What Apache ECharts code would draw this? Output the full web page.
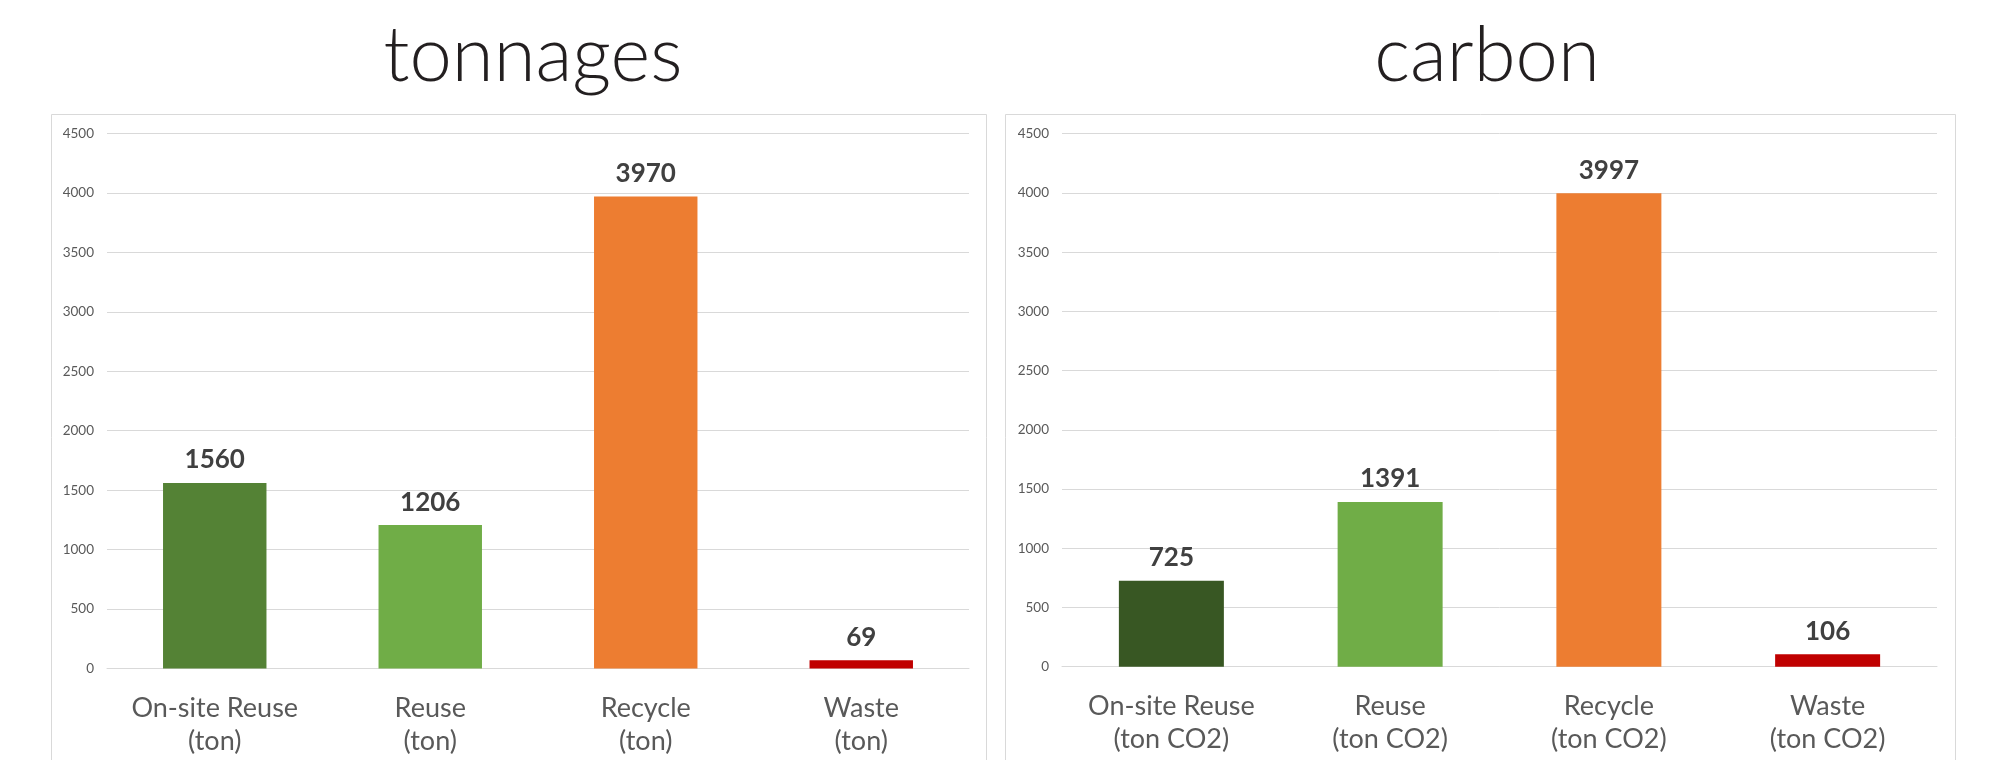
<!DOCTYPE html>
<html>
<head>
<meta charset="utf-8">
<script src="https://cdn.jsdelivr.net/npm/echarts@6/dist/echarts.min.js"></script>
<style>
  html, body { margin: 0; padding: 0; background: #ffffff; }
  #chart { width: 1998px; height: 760px; }
</style>
</head>
<body>
<div id="chart"></div>
<script>
// Material flows: tonnages and associated carbon per route
const tonnageCategories = ['On-site Reuse\n(ton)', 'Reuse\n(ton)', 'Recycle\n(ton)', 'Waste\n(ton)'];
const tonnageValues = [1560, 1206, 3970, 69];
const tonnageColors = ['#548235', '#70AD47', '#ED7D31', '#C00000'];

const carbonCategories = ['On-site Reuse\n(ton CO2)', 'Reuse\n(ton CO2)', 'Recycle\n(ton CO2)', 'Waste\n(ton CO2)'];
const carbonValues = [725, 1391, 3997, 106];
const carbonColors = ['#385723', '#70AD47', '#ED7D31', '#C00000'];

const panelTitles = ['tonnages', 'carbon'];
const yMin = 0, yMax = 4500, yStep = 500;

const FONT = 'Lato, "Open Sans", sans-serif';
const gridColor = '#d9d9d9';

function xAxisFor(idx, cats) {
  return {
    type: 'category', gridIndex: idx, data: cats,
    axisLine: { show: true, lineStyle: { color: gridColor, width: 1 } },
    axisTick: { show: false },
    axisLabel: {
      color: '#595959', fontFamily: FONT, fontSize: 27, lineHeight: 33,
      margin: 23, interval: 0
    }
  };
}
function yAxisFor(idx) {
  return {
    type: 'value', gridIndex: idx, min: yMin, max: yMax, interval: yStep,
    axisLine: { show: false }, axisTick: { show: false },
    splitLine: { lineStyle: { color: gridColor, width: 1 } },
    axisLabel: {
      color: '#595959', fontFamily: FONT, fontSize: 13.5, margin: 13,
      formatter: (v) => String(v)
    }
  };
}
function barSeries(idx, values, colors) {
  return {
    type: 'bar', xAxisIndex: idx, yAxisIndex: idx, barWidth: '48%',
    data: values.map((v, i) => ({ value: v, itemStyle: { color: colors[i] } })),
    label: {
      show: true, position: 'top', distance: 10,
      color: '#404040', fontFamily: FONT, fontWeight: 'bold', fontSize: 26
    },
    animation: false
  };
}

const chart = echarts.init(document.getElementById('chart'), null, { renderer: 'canvas' });
chart.setOption({
  backgroundColor: '#ffffff',
  animation: false,
  title: [
    { text: panelTitles[0], left: 528, top: 13, textAlign: 'center',
      textStyle: { fontFamily: FONT, fontWeight: 300, fontSize: 76, color: '#231f20' } },
    { text: panelTitles[1], left: 1482, top: 13, textAlign: 'center',
      textStyle: { fontFamily: FONT, fontWeight: 300, fontSize: 76, color: '#231f20' } }
  ],
  graphic: [
    { type: 'rect', shape: { x: 51.5, y: 114.5, width: 935, height: 700 }, z: -1,
      style: { fill: 'none', stroke: gridColor, lineWidth: 1 } },
    { type: 'rect', shape: { x: 1005.5, y: 114.5, width: 950, height: 700 }, z: -1,
      style: { fill: 'none', stroke: gridColor, lineWidth: 1 } }
  ],
  grid: [
    { left: 107, width: 862, top: 133.5, height: 535 },
    { left: 1062, width: 875, top: 133.7, height: 533 }
  ],
  xAxis: [xAxisFor(0, tonnageCategories), xAxisFor(1, carbonCategories)],
  yAxis: [yAxisFor(0), yAxisFor(1)],
  series: [barSeries(0, tonnageValues, tonnageColors), barSeries(1, carbonValues, carbonColors)]
});
</script>
</body>
</html>
